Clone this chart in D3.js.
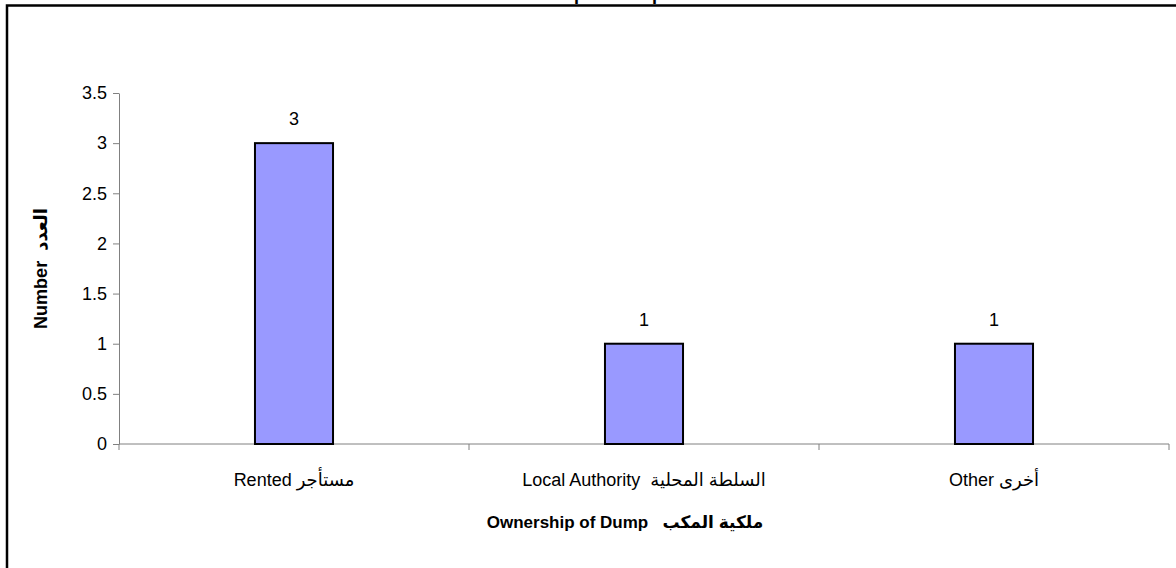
<!DOCTYPE html>
<html>
<head>
<meta charset="utf-8">
<script src="https://cdn.jsdelivr.net/npm/d3@7"></script>
<style>
  body { margin: 0; background: #fff; }
  svg { display: block; font-family: "Liberation Sans", Arial, "DejaVu Sans", sans-serif; }
</style>
</head>
<body>
<div id="chart"></div>
<script>
// data
var categories = ["Rented مستأجر", "Local Authority  السلطة المحلية", "Other أخرى"];
var values = [3, 1, 1];
var yTicks = [0, 0.5, 1, 1.5, 2, 2.5, 3, 3.5];
var titleText = "Ownership of Dump";
var xTitle = "Ownership of Dump   ملكية المكب";
var yTitle = "Number  العدد";

var width = 1176, height = 568;
var plot = { left: 119, right: 1169, top: 93, bottom: 444 };

var svg = d3.select("#chart").append("svg")
  .attr("width", width)
  .attr("height", height);

// outer frame (runs off the right and bottom edge)
svg.append("path")
  .attr("d", `M7,${height + 10} V5.5 H${width + 10}`)
  .attr("fill", "none")
  .attr("stroke", "#000")
  .attr("stroke-width", 2.5);

// title, cut off at the top edge so only descenders show
svg.append("text")
  .attr("x", 492)
  .attr("y", 0)
  .attr("text-anchor", "start")
  .attr("font-size", 18)
  .attr("font-weight", "bold")
  .text(titleText);

var x = d3.scaleBand()
  .domain(categories)
  .range([plot.left, plot.right])
  .padding(0);

var y = d3.scaleLinear()
  .domain([0, 3.5])
  .range([plot.bottom, plot.top]);

// y axis
var yAxis = d3.axisLeft(y)
  .tickValues(yTicks)
  .tickFormat(d => String(d))
  .tickSize(6)
  .tickSizeOuter(0)
  .tickPadding(6);

var yG = svg.append("g")
  .attr("transform", `translate(${plot.left},0)`)
  .call(yAxis);
yG.select(".domain").attr("stroke", "#808080");
yG.selectAll(".tick line").attr("stroke", "#808080");
yG.selectAll(".tick text")
  .attr("font-size", 18)
  .attr("font-family", "'Liberation Sans', Arial, sans-serif")
  .attr("fill", "#000");

// x axis line and ticks at band edges
var xG = svg.append("g");
xG.append("line")
  .attr("x1", plot.left).attr("x2", plot.right)
  .attr("y1", y(0)).attr("y2", y(0))
  .attr("stroke", "#808080");
var edges = categories.map(c => x(c)).concat([plot.right]);
xG.selectAll(".xtick")
  .data(edges)
  .enter()
  .append("line")
  .attr("class", "xtick")
  .attr("x1", d => d).attr("x2", d => d)
  .attr("y1", y(0)).attr("y2", y(0) + 6)
  .attr("stroke", "#808080");

xG.selectAll(".xlabel")
  .data(categories)
  .enter()
  .append("text")
  .attr("class", "xlabel")
  .attr("x", d => x(d) + x.bandwidth() / 2)
  .attr("y", y(0) + 42)
  .attr("text-anchor", "middle")
  .attr("font-size", 18)
  .style("white-space", "pre")
  .text(d => d);

// bars
var barW = x.bandwidth() * 0.223;
svg.selectAll(".bar")
  .data(values)
  .enter()
  .append("rect")
  .attr("class", "bar")
  .attr("x", (d, i) => x(categories[i]) + x.bandwidth() / 2 - barW / 2)
  .attr("y", d => y(d))
  .attr("width", barW)
  .attr("height", d => y(0) - y(d))
  .attr("fill", "#9999FF")
  .attr("stroke", "#000")
  .attr("stroke-width", 2);

// value labels
svg.selectAll(".val")
  .data(values)
  .enter()
  .append("text")
  .attr("class", "val")
  .attr("x", (d, i) => x(categories[i]) + x.bandwidth() / 2)
  .attr("y", d => y(d) - 18)
  .attr("text-anchor", "middle")
  .attr("font-size", 18)
  .text(d => d);

// axis titles
svg.append("text")
  .attr("x", 625)
  .attr("y", 528)
  .attr("text-anchor", "middle")
  .attr("font-size", 17)
  .attr("font-weight", "bold")
  .style("white-space", "pre")
  .text(xTitle);

svg.append("text")
  .attr("transform", `translate(47,${(plot.top + plot.bottom) / 2}) rotate(-90)`)
  .attr("text-anchor", "middle")
  .attr("font-size", 18)
  .attr("font-weight", "bold")
  .style("white-space", "pre")
  .text(yTitle);
</script>
</body>
</html>
